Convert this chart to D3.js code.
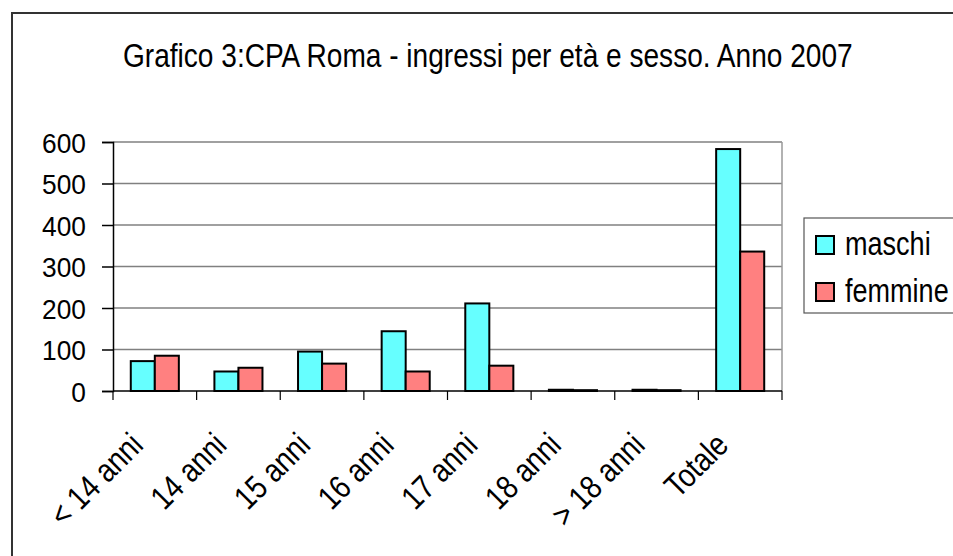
<!DOCTYPE html>
<html>
<head>
  <meta charset="utf-8">
  <title>Grafico 3</title>
  <style>
    body { margin: 0; background: #fff; }
    svg text { font-family: "Liberation Sans", Arial, sans-serif; fill: #000; }
  </style>
</head>
<body>
  <svg></svg>
  <script src="https://d3js.org/d3.v7.min.js"></script>
  <script>
    const categories = ["< 14 anni", "14 anni", "15 anni", "16 anni", "17 anni", "18 anni", "> 18 anni", "Totale"];
    const maschi = [72, 47, 95, 144, 211, 3, 3, 583];
    const femmine = [85, 56, 66, 47, 61, 2, 2, 336];
    const seriesNames = ["maschi", "femmine"];
    const colors = ["#66ffff", "#ff8080"];
    const yTicks = [0, 100, 200, 300, 400, 500, 600];

    const width = 953, height = 556;
    const plot = { left: 113, right: 782, top: 142, bottom: 391 };

    const svg = d3.select("svg")
      .attr("width", width)
      .attr("height", height)
      .attr("viewBox", [0, 0, width, height]);

    // outer chart frame (runs off the right and bottom edges)
    svg.append("rect")
      .attr("x", 12).attr("y", 13)
      .attr("width", 1000).attr("height", 1000)
      .attr("fill", "none")
      .attr("stroke", "#333")
      .attr("stroke-width", 2);

    // title, squeezed horizontally to look like a narrow font
    const title = svg.append("text")
      .attr("font-size", 33)
      .text("Grafico 3:CPA Roma - ingressi per età e sesso. Anno 2007");
    const tw = title.node().getComputedTextLength();
    title.attr("transform", `translate(123,67) scale(${730 / tw},1)`);

    const x = d3.scaleBand().domain(categories).range([plot.left, plot.right]);
    const y = d3.scaleLinear().domain([0, 600]).range([plot.bottom, plot.top]);
    const xs = d3.scaleBand().domain(seriesNames).range([0, x.bandwidth()])
      .paddingInner(0).paddingOuter(0.74);

    // gridlines
    svg.append("g").selectAll("line")
      .data(yTicks.slice(1))
      .join("line")
      .attr("x1", plot.left).attr("x2", plot.right)
      .attr("y1", d => y(d)).attr("y2", d => y(d))
      .attr("stroke", "#808080")
      .attr("stroke-width", 1.5);

    // right border of plot area
    svg.append("line")
      .attr("x1", plot.right).attr("x2", plot.right)
      .attr("y1", plot.top).attr("y2", plot.bottom)
      .attr("stroke", "#999").attr("stroke-width", 1.5);

    // y axis
    const yAxis = svg.append("g")
      .attr("transform", `translate(${plot.left},0)`)
      .call(d3.axisLeft(y).tickValues(yTicks).tickSize(11).tickPadding(0));
    yAxis.select(".domain").attr("stroke", "#000").attr("stroke-width", 1.5);
    yAxis.selectAll(".tick line").attr("stroke", "#000").attr("stroke-width", 1.5);
    yAxis.selectAll(".tick text").remove();
    yAxis.selectAll(".tick").append("text")
      .attr("transform", "translate(-27,0) scale(0.94,1)")
      .attr("text-anchor", "end")
      .attr("dy", "0.36em")
      .attr("font-size", 28)
      .text(d => d);

    // x axis
    const xAxis = svg.append("g")
      .attr("transform", `translate(0,${plot.bottom})`);
    xAxis.append("line")
      .attr("x1", plot.left).attr("x2", plot.right)
      .attr("stroke", "#000").attr("stroke-width", 1.5);
    const xTickPos = categories.map(c => x(c)).concat([plot.right]);
    xAxis.selectAll("line.tk")
      .data(xTickPos)
      .join("line")
      .attr("class", "tk")
      .attr("x1", d => d).attr("x2", d => d)
      .attr("y1", 0).attr("y2", 9)
      .attr("stroke", "#000").attr("stroke-width", 1.2);
    xAxis.selectAll("text")
      .data(categories)
      .join("text")
      .attr("transform", d => `translate(${x(d) + x.bandwidth() / 2 - 10},${56}) rotate(-45) scale(0.84,1)`)
      .attr("text-anchor", "end")
      .attr("font-size", 33)
      .text(d => d);

    // bars (drawn over the axis line)
    const series = [maschi, femmine];
    svg.append("g").selectAll("g")
      .data(series)
      .join("g")
      .attr("fill", (d, i) => colors[i])
      .selectAll("rect")
      .data((vals, si) => vals.map((v, ci) => ({ v, ci, si })))
      .join("rect")
      .attr("x", d => x(categories[d.ci]) + xs(seriesNames[d.si]))
      .attr("width", xs.bandwidth())
      .attr("y", d => y(d.v))
      .attr("height", d => y(0) - y(d.v))
      .attr("stroke", "#000")
      .attr("stroke-width", 2);

    // legend
    const legend = svg.append("g");
    legend.append("rect")
      .attr("x", 804).attr("y", 218)
      .attr("width", 200).attr("height", 95)
      .attr("fill", "#fff")
      .attr("stroke", "#555").attr("stroke-width", 1.2);
    const li = legend.selectAll("g")
      .data(seriesNames)
      .join("g")
      .attr("transform", (d, i) => `translate(816,${236 + i * 47})`);
    li.append("rect")
      .attr("width", 18).attr("height", 18)
      .attr("fill", (d, i) => colors[i])
      .attr("stroke", "#000").attr("stroke-width", 2);
    li.append("text")
      .attr("transform", "translate(29,19) scale(0.82,1)")
      .attr("font-size", 33)
      .text(d => d);
  </script>
</body>
</html>
